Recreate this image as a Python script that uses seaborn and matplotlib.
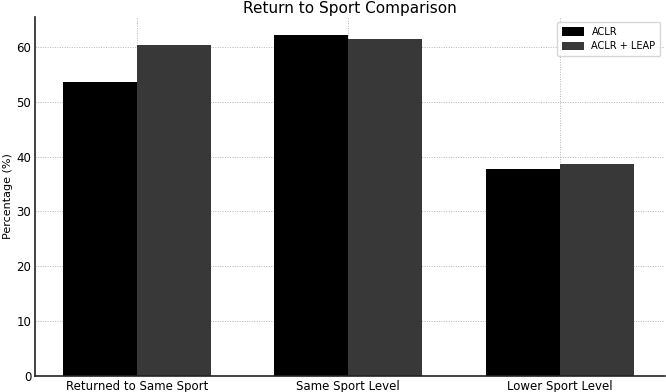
import matplotlib
matplotlib.use('Agg')
import matplotlib.pyplot as plt
import seaborn as sns
import pandas as pd

categories = ['Returned to Same Sport', 'Same Sport Level', 'Lower Sport Level']
aclr = [53.7, 62.2, 37.8]
aclr_leap = [60.3, 61.4, 38.6]
groups = ['ACLR', 'ACLR + LEAP']

df = pd.DataFrame({
    'category': categories * 2,
    'value': aclr + aclr_leap,
    'group': [groups[0]] * 3 + [groups[1]] * 3,
})

sns.set_theme(style='white')
plt.rcParams['font.family'] = ['DejaVu Sans']
plt.rcParams['text.color'] = 'black'
plt.rcParams['axes.labelcolor'] = 'black'
plt.rcParams['xtick.color'] = 'black'
plt.rcParams['ytick.color'] = 'black'

fig, ax = plt.subplots(figsize=(6.66, 3.92), dpi=100)
fig.subplots_adjust(left=0.053, right=0.999, top=0.957, bottom=0.041)

sns.barplot(ax=ax, data=df, x='category', y='value', hue='group',
            palette=['#000000', '#383838'], width=0.7, saturation=1,
            linewidth=0)

ax.set_title('Return to Sport Comparison', fontsize=11, pad=3, color='black')
ax.set_xlabel('')
ax.set_ylabel('Percentage (%)', fontsize=8, labelpad=2)
ax.set_ylim(0, 65.5)
ax.set_xlim(-0.48, 2.5)
ax.set_yticks([0, 10, 20, 30, 40, 50, 60])
ax.tick_params(axis='both', length=0, labelsize=8.5, pad=3)
ax.grid(True, linestyle=(0, (1, 1.5)), color='#b5b5b5', linewidth=0.7)
ax.set_axisbelow(True)
for side in ['top', 'right']:
    ax.spines[side].set_visible(False)
for side in ['left', 'bottom']:
    ax.spines[side].set_color('#222222')
    ax.spines[side].set_linewidth(1.2)

ax.legend(loc='upper right', fontsize=7, frameon=True, fancybox=True,
          handlelength=2.2, handleheight=1.0, borderpad=0.5, labelspacing=0.5)

fig.savefig('out.png', dpi=100)
